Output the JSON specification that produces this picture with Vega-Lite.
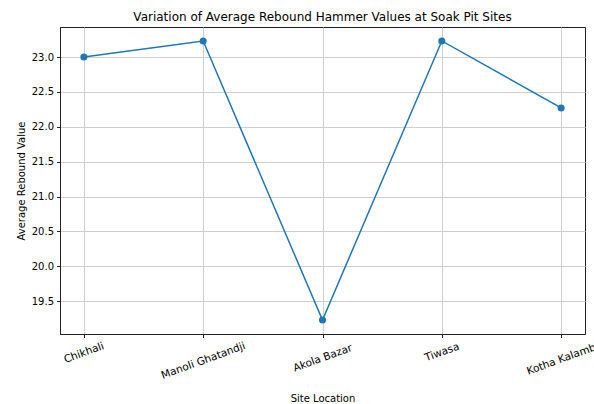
{
  "$schema": "https://vega.github.io/schema/vega-lite/v6.json",
  "width": 525,
  "height": 307,
  "autosize": {"type": "none"},
  "padding": {"left": 60, "top": 27, "right": 9, "bottom": 70},
  "background": "white",
  "config": {
    "font": "DejaVu Sans",
    "view": {"stroke": "#222222", "strokeWidth": 1},
    "axis": {
      "labelFont": "DejaVu Sans",
      "titleFont": "DejaVu Sans",
      "labelFontSize": 10,
      "titleFontSize": 10,
      "titleFontWeight": "normal",
      "labelColor": "#000000",
      "titleColor": "#000000",
      "tickColor": "#222222",
      "domainColor": "#222222",
      "tickSize": 3.5,
      "gridColor": "#cfcfcf",
      "gridWidth": 1
    }
  },
  "title": {
    "text": "Variation of Average Rebound Hammer Values at Soak Pit Sites",
    "font": "DejaVu Sans",
    "fontSize": 12,
    "fontWeight": "normal",
    "color": "#000000",
    "anchor": "middle",
    "frame": "group",
    "baseline": "bottom",
    "offset": 3,
    "dy": 12
  },
  "data": {
    "values": [
      {"site": "Chikhali", "value": 23.0},
      {"site": "Manoli Ghatandji", "value": 23.23},
      {"site": "Akola Bazar", "value": 19.23},
      {"site": "Tiwasa", "value": 23.23},
      {"site": "Kotha Kalamb", "value": 22.27}
    ]
  },
  "encoding": {
    "x": {
      "field": "site",
      "type": "nominal",
      "sort": null,
      "scale": {"type": "point", "padding": 0.2},
      "axis": {
        "title": "Site Location",
        "grid": true,
        "labelFontSize": 10.5,
        "labelAngle": -20,
        "labelAlign": "center",
        "labelBaseline": "top",
        "labelOverlap": false,
        "labelBound": false,
        "labelFlush": false,
        "labelOffset": -2,
        "labelPadding": {
          "condition": [
            {"test": "datum.value === 'Chikhali'", "value": 10.3},
            {"test": "datum.value === 'Manoli Ghatandji'", "value": 18.2},
            {"test": "datum.value === 'Akola Bazar'", "value": 15.6},
            {"test": "datum.value === 'Tiwasa'", "value": 9.7},
            {"test": "datum.value === 'Kotha Kalamb'", "value": 16.8}
          ],
          "value": 10
        },
        "titlePadding": 13
      }
    },
    "y": {
      "field": "value",
      "type": "quantitative",
      "scale": {"domain": [19.03, 23.43], "nice": false, "zero": false},
      "axis": {
        "title": "Average Rebound Value",
        "values": [19.5, 20.0, 20.5, 21.0, 21.5, 22.0, 22.5, 23.0],
        "format": ".1f",
        "labelPadding": 3,
        "titlePadding": 5,
        "grid": true
      }
    }
  },
  "layer": [
    {"mark": {"type": "line", "color": "#1f77b4", "strokeWidth": 1.5}},
    {"mark": {"type": "point", "filled": true, "opacity": 1, "color": "#1f77b4", "size": 50}}
  ]
}
